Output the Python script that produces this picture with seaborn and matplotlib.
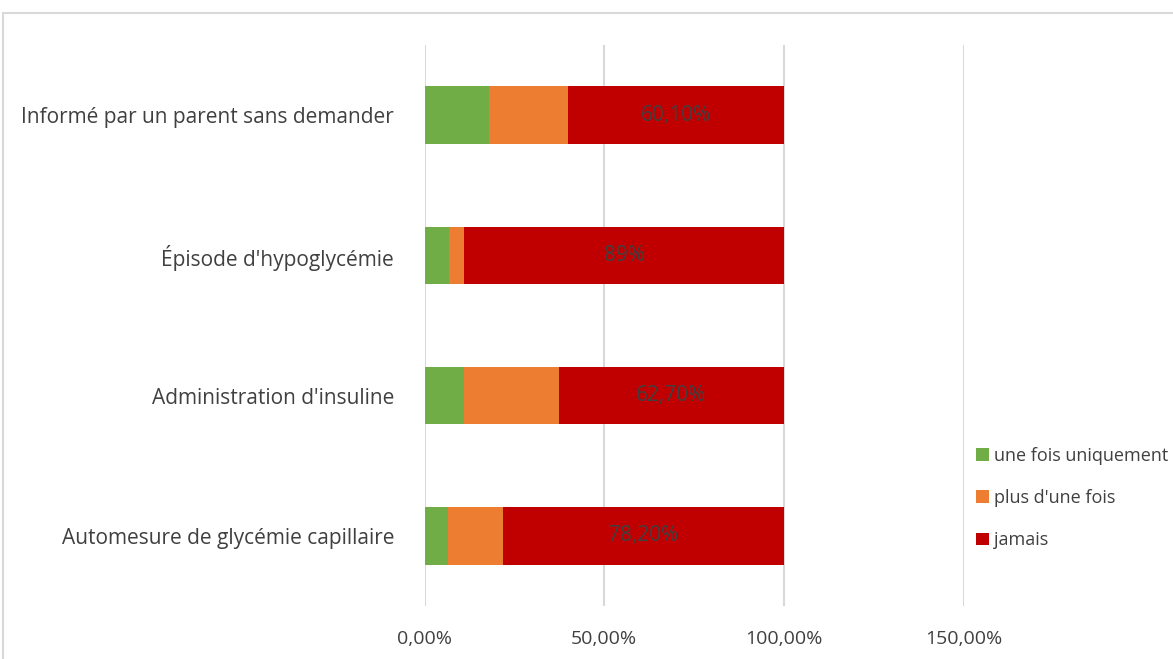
import matplotlib
matplotlib.use("Agg")
import matplotlib.pyplot as plt
from matplotlib.patches import Patch, Rectangle
import numpy as np
import pandas as pd
import seaborn as sns

categories = [
    "Informé par un parent sans demander",
    "Épisode d'hypoglycémie",
    "Administration d'insuline",
    "Automesure de glycémie capillaire",
]
une_fois = [18.0, 6.7, 10.9, 6.5]
plus_une_fois = [21.9, 4.3, 26.4, 15.3]
jamais = [60.1, 89.0, 62.7, 78.2]
jamais_labels = ["60,10%", "89%", "62,70%", "78,20%"]
series_names = ["une fois uniquement", "plus d'une fois", "jamais"]
tick_values = [0, 50, 100, 150]
tick_labels = ["0,00%", "50,00%", "100,00%", "150,00%"]

colors = {"une fois uniquement": "#70ad47", "plus d'une fois": "#ed7d31", "jamais": "#c00000"}
text_color = "#404040"

sns.set_theme(style="white")
plt.rcParams["font.family"] = ["Open Sans", "DejaVu Sans"]

df = pd.DataFrame({
    "cat": categories,
    "une fois uniquement": une_fois,
    "plus d'une fois": plus_une_fois,
    "jamais": jamais,
})
# cumulative ends of each stacked segment
df["end_green"] = df["une fois uniquement"]
df["end_orange"] = df["end_green"] + df["plus d'une fois"]
df["end_red"] = df["end_orange"] + df["jamais"]

fig = plt.figure(figsize=(11.73, 6.59), dpi=100)
ax = fig.add_axes([0.362, 0.0804, 0.4595, 0.8513])

# outer chart frame
fig.patches.append(Rectangle((3 / 1173, -0.1), 1.2, 1 - 13 / 659 + 0.1,
                             transform=fig.transFigure, fill=False,
                             edgecolor="#d9d9d9", linewidth=1.5))

bw = 0.41
for col, name in [("end_red", "jamais"), ("end_orange", "plus d'une fois"), ("end_green", "une fois uniquement")]:
    sns.barplot(data=df, y="cat", x=col, order=categories, orient="h",
                color=colors[name], width=bw, saturation=1, ax=ax, zorder=3,
                linewidth=0, edgecolor="none")

# value labels centred on the "jamais" segment
for i, (s, e, lab) in enumerate(zip(df["end_orange"], df["end_red"], jamais_labels)):
    ax.text((s + e) / 2, i, lab, ha="center", va="center", fontsize=15,
            color=text_color, zorder=5)

ax.set_xlim(0, 150)
ax.set_ylim(3.5, -0.5)
ax.set_xticks(tick_values)
ax.set_xticklabels(tick_labels)
ax.xaxis.grid(True, color="#d9d9d9", linewidth=1.5, zorder=0)
ax.set_axisbelow(True)
for sp in ax.spines.values():
    sp.set_visible(False)
ax.tick_params(axis="x", length=0, pad=17, labelsize=14, labelcolor=text_color)
ax.tick_params(axis="y", length=0, pad=22, labelsize=15, labelcolor=text_color)
ax.set_xlabel("")
ax.set_ylabel("")

handles = [Patch(facecolor=colors[n], edgecolor="none") for n in series_names]
leg = fig.legend(handles, series_names, loc="upper left",
                 bbox_to_anchor=(0.818, 0.347), frameon=False,
                 fontsize=13, handlelength=0.72, handleheight=0.72,
                 handletextpad=0.3, labelspacing=1.35, labelcolor=text_color)

fig.savefig("out.png", dpi=100, facecolor="white")
